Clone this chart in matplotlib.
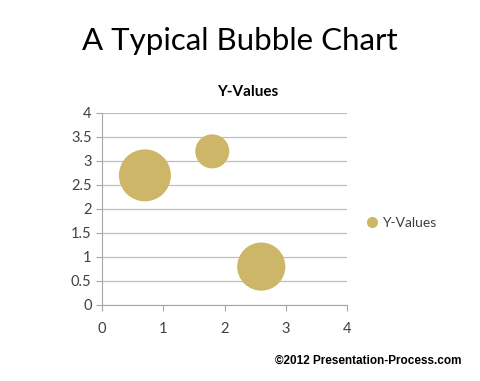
import matplotlib.pyplot as plt
from matplotlib.lines import Line2D

x_values = [0.7, 1.8, 2.6]
y_values = [2.7, 3.2, 0.8]
bubble_sizes = [7, 3, 6]
x_ticks = [0, 1, 2, 3, 4]
y_ticks = [0, 0.5, 1, 1.5, 2, 2.5, 3, 3.5, 4]
y_labels = ['0', '0.5', '1', '1.5', '2', '2.5', '3', '3.5', '4']

gold = '#CDB667'
text_col = '#404040'

fig = plt.figure(figsize=(4.8, 3.81), dpi=100)
ax = fig.add_axes([0.2125, 0.1995, 0.5105, 0.504])

ax.scatter(x_values, y_values, s=[200 * b for b in bubble_sizes], color=gold,
           edgecolors='none', zorder=3, clip_on=False)

ax.set_xlim(0, 4)
ax.set_ylim(0, 4)
ax.set_xticks(x_ticks)
ax.set_yticks(y_ticks)
ax.set_yticklabels(y_labels)
ax.grid(axis='y', color='#BFBFBF', linewidth=0.9)
ax.set_axisbelow(True)
for side in ['top', 'right']:
    ax.spines[side].set_visible(False)
for side in ['left', 'bottom']:
    ax.spines[side].set_color('#A6A6A6')
ax.tick_params(colors='#A6A6A6', labelcolor=text_col, labelsize=10.5, length=4)
for lab in ax.get_xticklabels() + ax.get_yticklabels():
    lab.set_family('Lato')
ax.tick_params(axis='x', pad=8)

fig.text(0.5, 0.892, 'A Typical Bubble Chart', ha='center', va='center',
         fontsize=22.5, family='Lato')
fig.text(0.517, 0.758, 'Y-Values', ha='center', va='center',
         fontsize=11, fontweight='bold', family='Lato')

handle = Line2D([], [], marker='o', linestyle='none', color=gold, markersize=7)
fig.legend([handle], ['Y-Values'], loc='center left', bbox_to_anchor=(0.735, 0.415),
           frameon=False, handlelength=1.0, handletextpad=0.2,
           prop={'family': 'Lato', 'size': 10}, labelcolor=text_col)

fig.text(0.962, 0.052, '\u00a92012 Presentation-Process.com', ha='right', va='center',
         fontsize=8.5, fontweight='bold', family='Liberation Sans')

fig.savefig('out.png', dpi=100)
